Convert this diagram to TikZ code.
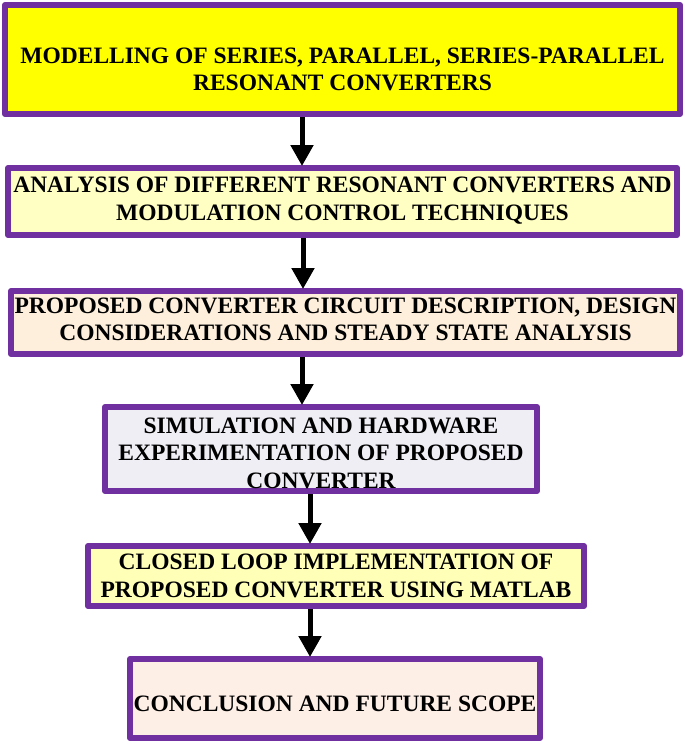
\documentclass[tikz,border=0pt]{standalone}
\usepackage{fontspec}
\setmainfont{Liberation Serif}
\usetikzlibrary{arrows.meta}
\definecolor{bord}{HTML}{7030A0}
\definecolor{f1}{HTML}{FFFF00}
\definecolor{f2}{HTML}{FFFFC4}
\definecolor{f3}{HTML}{FDEFDB}
\definecolor{f4}{HTML}{EFEEF5}
\definecolor{f5}{HTML}{FFFFB8}
\definecolor{f6}{HTML}{FDEEE6}
\tikzset{
  stepbox/.style={draw=bord, line width=6pt, line join=round, inner sep=0pt},
  steptext/.style={align=center, inner sep=0pt,
    font=\fontsize{23.5}{27.5}\selectfont\bfseries, text=black},
  flow/.style={draw=black, line width=5pt, -{Triangle[width=22pt,length=21pt]}, shorten >=-1pt}
}
\begin{document}
\begin{tikzpicture}[x=1pt,y=-1pt]
\useasboundingbox (0,0) rectangle (685,744);
\node[stepbox, fill=f1, minimum width=675pt, minimum height=109pt] (b1) at (342.5,59.5) {};
\node[steptext, yshift=-10pt] (t1) at (b1.center)
  {MODELLING OF SERIES, PARALLEL, SERIES-PARALLEL\\RESONANT CONVERTERS};
\node[stepbox, fill=f2, minimum width=669pt, minimum height=67pt] (b2) at (342.5,201.5) {};
\node[steptext, yshift=1pt] (t2) at (b2.center)
  {ANALYSIS OF DIFFERENT RESONANT CONVERTERS AND\\MODULATION CONTROL TECHNIQUES};
\node[stepbox, fill=f3, minimum width=669pt, minimum height=63pt] (b3) at (345.5,322.5) {};
\node[steptext, yshift=3pt] (t3) at (b3.center)
  {PROPOSED CONVERTER CIRCUIT DESCRIPTION, DESIGN\\CONSIDERATIONS AND STEADY STATE ANALYSIS};
\node[stepbox, fill=f4, minimum width=432pt, minimum height=84pt] (b4) at (321,449) {};
\node[steptext, yshift=-4pt] (t4) at (b4.center)
  {SIMULATION AND HARDWARE\\EXPERIMENTATION OF PROPOSED\\CONVERTER};
\node[stepbox, fill=f5, minimum width=496pt, minimum height=60pt] (b5) at (336,576) {};
\node[steptext] (t5) at (b5.center)
  {CLOSED LOOP IMPLEMENTATION OF\\PROPOSED CONVERTER USING MATLAB};
\node[stepbox, fill=f6, minimum width=410pt, minimum height=79pt] (b6) at (335,698.5) {};
\node[steptext, yshift=-5pt] (t6) at (b6.center) {CONCLUSION AND FUTURE SCOPE};
\draw[flow] (b1.south -| 302,0) -- (b2.north -| 302,0);
\draw[flow] (b2.south -| 303,0) -- (b3.north -| 303,0);
\draw[flow] (b3.south -| 302,0) -- (b4.north -| 302,0);
\draw[flow] (b4.south -| 310,0) -- (b5.north -| 310,0);
\draw[flow] (b5.south -| 310,0) -- (b6.north -| 310,0);
\end{tikzpicture}
\end{document}
